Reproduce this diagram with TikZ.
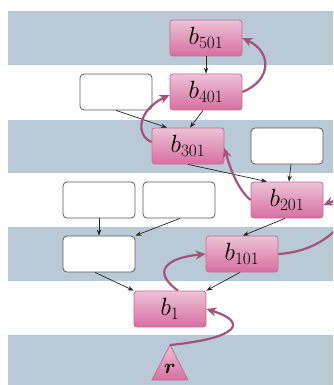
\documentclass[tikz,border=0pt]{standalone}
\usepackage{amsmath}
\usetikzlibrary{arrows.meta}
\definecolor{band}{HTML}{B9C9D5}
\definecolor{pinktop}{HTML}{EDC2D7}
\definecolor{pinkbot}{HTML}{D76FA0}
\definecolor{pinkedge}{HTML}{C96A98}
\definecolor{flow}{HTML}{A3527D}
\definecolor{boxedge}{HTML}{5A5A5A}
\begin{document}
\begin{tikzpicture}[x=1pt,y=-1pt,
  blk/.style={draw=pinkedge, line width=0.8pt, rounded corners=3pt,
    top color=pinktop, bottom color=pinkbot,
    minimum width=72pt, minimum height=36pt, inner sep=0pt,
    font=\fontsize{23.5}{28}\selectfont},
  empty/.style={draw=boxedge, fill=white, line width=0.8pt, rounded corners=4pt,
    minimum width=72pt, minimum height=36pt, inner sep=0pt},
  link/.style={draw=black!85, line width=0.7pt, -{Stealth[length=6pt,width=4.5pt]}},
  hop/.style={draw=flow, line width=2.2pt, -{Stealth[length=10pt,width=9pt]}}]
\useasboundingbox (0,0) rectangle (333,385);
\clip (0,0) rectangle (333,385);

% horizontal bands
\fill[band] (8,11) rectangle (333,65);
\fill[band] (8,120) rectangle (333,173);
\fill[band] (8,227) rectangle (333,281);
\fill[band] (8,335) rectangle (333,385);

% blocks
\node[blk] (b501) at (206,38) {$b_{501}$};
\node[blk] (b401) at (206,92) {$b_{401}$};
\node[empty] (e1) at (116,92) {};
\node[blk] (b301) at (188,146) {$b_{301}$};
\node[empty] (e2) at (287,146) {};
\node[blk] (b201) at (287,200) {$b_{201}$};
\node[empty] (e3) at (99,200) {};
\node[empty] (e4) at (179,200) {};
\node[empty] (e5) at (99,254) {};
\node[blk] (b101) at (242,254) {$b_{101}$};
\node[blk] (b1) at (170,309) {$b_{1}$};

% root triangle
\coordinate (rtop) at (170,345);
\shade[top color=pinktop, bottom color=pinkbot, draw=pinkedge, line width=0.8pt]
  (rtop) -- (188,380) -- (152,380) -- cycle;
\node[font=\fontsize{20}{24}\selectfont, inner sep=0pt] (r) at (170,369) {$\boldsymbol{r}$};

% parent links
\draw[link] (b501.south) -- (b401.north);
\draw[link] (e1.south) -- ([xshift=-21]b301.north);
\draw[link] ([xshift=-3]b401.south) -- ([xshift=2]b301.north);
\draw[link] (b301.south) -- ([xshift=-20]b201.north);
\draw[link] ([xshift=4]e2.south) -- ([xshift=2]b201.north);
\draw[link] (e3.south) -- (e5.north);
\draw[link] ([xshift=1]e4.south) -- (e5.north east);
\draw[link] ([xshift=-2]b201.south) -- ([xshift=1]b101.north);
\draw[link] ([xshift=-4]e5.south) -- (b1.north west);
\draw[link] ([xshift=-2]b101.south) -- (b1.north east);

% chain walk
\draw[hop] (rtop) .. controls (240,338) and (248,322) .. (b1.east);
\draw[hop] ([xshift=8]b1.north) .. controls (152,272) and (165,258) .. (b101.west);
\draw[hop] (b101.east) .. controls (345,250) and (365,188) .. ([yshift=-5]b201.east);
\draw[hop] (b201.west) .. controls (238,190) and (230,168) .. ([yshift=-2]b301.east);
\draw[hop] ([yshift=4]b301.west) .. controls (135,135) and (138,110) .. ([yshift=-3]b401.west);
\draw[hop] (b401.east) .. controls (272,80) and (272,52) .. (b501.east);
\end{tikzpicture}
\end{document}
